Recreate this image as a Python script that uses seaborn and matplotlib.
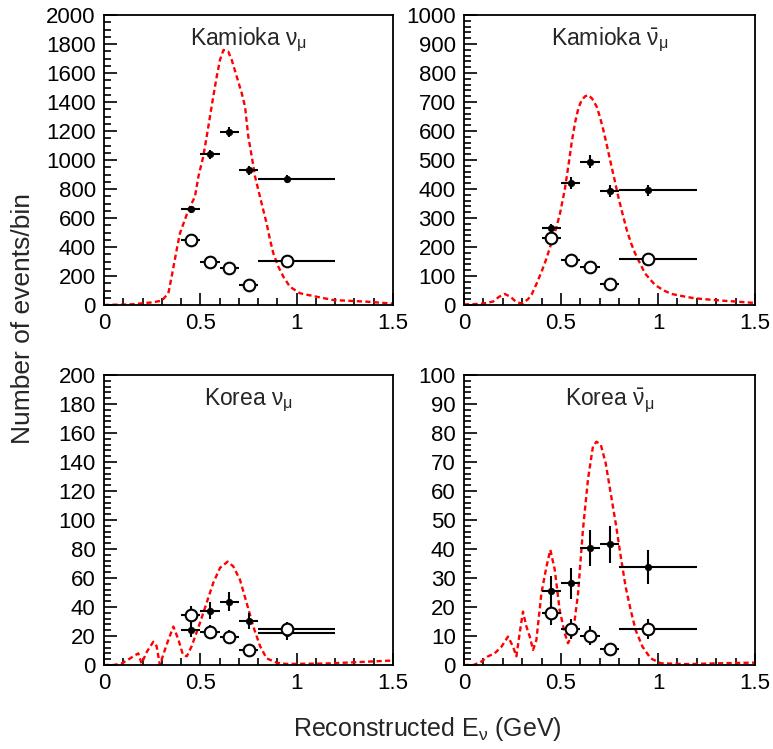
import numpy as np
import pandas as pd
import matplotlib
matplotlib.use("Agg")
import matplotlib.pyplot as plt
from matplotlib.ticker import MultipleLocator
import seaborn as sns

# ---------------- data ----------------
bin_centers = [0.45, 0.55, 0.65, 0.75, 0.95]
bin_err_low = [0.05, 0.05, 0.05, 0.05, 0.15]
bin_err_high = [0.05, 0.05, 0.05, 0.05, 0.25]

# Kamioka nu_mu
km_filled = [660, 1040, 1195, 930, 870]
km_filled_err = [26, 32, 35, 30, 30]
km_open = [445, 300, 255, 140, 305]
km_open_err = [21, 17, 16, 12, 17]
km_curve_x = [0.0, 0.05, 0.10, 0.15, 0.20, 0.25, 0.30, 0.334, 0.351, 0.377, 0.394, 0.438,
              0.472, 0.49, 0.515, 0.533, 0.55, 0.567, 0.585, 0.602, 0.62, 0.645, 0.663,
              0.689, 0.715, 0.732, 0.749, 0.767, 0.784, 0.801, 0.818, 0.844, 0.862, 0.879,
              0.905, 0.931, 0.965, 1.017, 1.104, 1.19, 1.364, 1.484, 1.5]
km_curve_y = [0, 2, 3, 5, 12, 18, 30, 81, 195, 379, 494, 655,
              747, 885, 1023, 1161, 1299, 1437, 1575, 1690, 1759, 1747, 1690,
              1575, 1460, 1368, 1161, 1023, 885, 793, 701, 563, 448, 356,
              264, 195, 126, 81, 57, 34, 23, 11, 10]

# Kamioka anti-nu_mu
kb_filled = [265, 422, 494, 393, 395]
kb_filled_err = [16, 21, 22, 20, 20]
kb_open = [230, 155, 132, 71, 160]
kb_open_err = [15, 12, 11.5, 8.4, 12.6]
kb_curve_x = [0.0, 0.05, 0.10, 0.15, 0.18, 0.21, 0.24, 0.27, 0.30, 0.33, 0.35, 0.375, 0.40,
              0.425, 0.45, 0.475, 0.495, 0.52, 0.54, 0.555, 0.572, 0.59, 0.607, 0.625, 0.64,
              0.66, 0.684, 0.70, 0.718, 0.735, 0.753, 0.775, 0.795, 0.817, 0.839, 0.86,
              0.882, 0.91, 0.933, 0.96, 0.985, 1.03, 1.07, 1.13, 1.19, 1.26, 1.33, 1.40,
              1.48, 1.5]
kb_curve_y = [2, 3, 5, 12, 28, 38, 28, 10, 5, 20, 38, 75, 115,
              160, 213, 265, 316, 400, 489, 560, 627, 680, 707, 720, 724,
              712, 684, 650, 604, 555, 500, 435, 374, 315, 259, 215,
              178, 140, 109, 88, 69, 50, 38, 30, 23, 19, 15, 12,
              8, 7]

# Korea nu_mu
rm_filled = [24, 37.5, 43.7, 30.6, 22]
rm_filled_err = [4.9, 6.1, 6.6, 5.5, 4.7]
rm_open = [34.5, 23, 19.5, 10.4, 24.5]
rm_open_err = [5.9, 4.8, 4.4, 3.2, 4.9]
rm_curve_x = [0.0, 0.05, 0.09, 0.118, 0.152, 0.178, 0.195, 0.222, 0.256, 0.273, 0.29, 0.325,
              0.36, 0.386, 0.41, 0.43, 0.455, 0.498, 0.533, 0.567, 0.602, 0.642, 0.671,
              0.706, 0.74, 0.775, 0.81, 0.844, 0.896, 0.948, 1.0, 1.15, 1.32, 1.48, 1.5]
rm_curve_y = [0, 0, 1, 3, 6, 8, 1, 9, 16, 13, 0, 14,
              26.5, 17.5, 7, 6, 13, 29, 43, 56.6, 67, 71.3, 68,
              58.7, 43, 26.5, 13, 4.6, 1.6, 0.7, 0.8, 1, 2, 3, 3]

# Korea anti-nu_mu
rb_filled = [25.6, 28.2, 40.3, 41.6, 33.7]
rb_filled_err = [5.1, 5.3, 6.3, 6.4, 5.8]
rb_open = [18, 12.3, 10.1, 5.4, 12.3]
rb_open_err = [4.2, 3.5, 3.2, 2.3, 3.5]
rb_curve_x = [0.0, 0.05, 0.09, 0.124, 0.158, 0.193, 0.227, 0.253, 0.27, 0.287, 0.304, 0.322,
              0.339, 0.356, 0.373, 0.399, 0.425, 0.445, 0.468, 0.493, 0.519, 0.536, 0.562,
              0.588, 0.613, 0.639, 0.665, 0.683, 0.705, 0.73, 0.756, 0.782, 0.808, 0.833,
              0.859, 0.885, 0.92, 0.962, 1.014, 1.15, 1.32, 1.48, 1.5]
rb_curve_y = [0, 0, 1.2, 3, 4, 6.3, 9.8, 6.3, 3, 11, 18.4, 13.2,
              9.8, 5.2, 8.6, 24.7, 33.9, 39.7, 32.8, 19, 11, 7.5, 11,
              24.7, 46.6, 64, 75.5, 77, 76, 69.7, 59.3, 48.9, 37.4, 27,
              19, 12, 6.3, 2.3, 0.6, 0.3, 0.6, 0.8, 0.8]

panels = [
    dict(title=r"Kamioka $\nu_{\mu}$", ymax=2000, major=200, minor=50,
         filled=km_filled, ferr=km_filled_err, opn=km_open, oerr=km_open_err,
         cx=km_curve_x, cy=km_curve_y,
         pos=[104 / 773, 1 - 305 / 749, 289 / 773, 290 / 749]),
    dict(title=r"Kamioka $\bar{\nu}_{\mu}$", ymax=1000, major=100, minor=20,
         filled=kb_filled, ferr=kb_filled_err, opn=kb_open, oerr=kb_open_err,
         cx=kb_curve_x, cy=kb_curve_y,
         pos=[464 / 773, 1 - 305 / 749, 291 / 773, 290 / 749]),
    dict(title=r"Korea $\nu_{\mu}$", ymax=200, major=20, minor=4,
         filled=rm_filled, ferr=rm_filled_err, opn=rm_open, oerr=rm_open_err,
         cx=rm_curve_x, cy=rm_curve_y,
         pos=[104 / 773, 1 - 665 / 749, 289 / 773, 290 / 749]),
    dict(title=r"Korea $\bar{\nu}_{\mu}$", ymax=100, major=10, minor=2,
         filled=rb_filled, ferr=rb_filled_err, opn=rb_open, oerr=rb_open_err,
         cx=rb_curve_x, cy=rb_curve_y,
         pos=[464 / 773, 1 - 665 / 749, 291 / 773, 290 / 749]),
]

# ---------------- style ----------------
sns.set_style("ticks")
plt.rcParams["font.family"] = ["Liberation Sans", "DejaVu Sans"]
plt.rcParams["mathtext.fontset"] = "custom"
plt.rcParams["mathtext.rm"] = "Liberation Sans"
plt.rcParams["mathtext.it"] = "Liberation Sans"
plt.rcParams["mathtext.bf"] = "Liberation Sans:bold"
plt.rcParams["mathtext.sf"] = "Liberation Sans"

fig = plt.figure(figsize=(7.73, 7.49), dpi=100)

for p in panels:
    ax = fig.add_axes(p["pos"])
    # expected curve
    cdf = pd.DataFrame({"E": p["cx"], "N": p["cy"]})
    sns.lineplot(data=cdf, x="E", y="N", ax=ax, color="#ff0000", linewidth=1.7,
                 linestyle="--", sort=False, zorder=2)
    ax.lines[-1].set_dashes((2.2, 1.4))

    # data with error bars
    xerr = [bin_err_low, bin_err_high]
    ax.errorbar(bin_centers, p["filled"], xerr=xerr, yerr=p["ferr"],
                fmt="none", ecolor="black", elinewidth=1.5, capsize=0, zorder=3)
    ax.errorbar(bin_centers, p["opn"], xerr=xerr, yerr=p["oerr"],
                fmt="none", ecolor="black", elinewidth=1.5, capsize=0, zorder=3)
    fdf = pd.DataFrame({"E": bin_centers, "N": p["filled"]})
    odf = pd.DataFrame({"E": bin_centers, "N": p["opn"]})
    sns.scatterplot(data=fdf, x="E", y="N", ax=ax, color="black", s=22,
                    edgecolor="black", linewidth=0.5, zorder=4)
    sns.scatterplot(data=odf, x="E", y="N", ax=ax, facecolor="white", s=70,
                    edgecolor="black", linewidth=1.5, zorder=4)

    ax.set_xlim(0, 1.5)
    ax.set_ylim(0, p["ymax"])
    ax.xaxis.set_major_locator(MultipleLocator(0.5))
    ax.xaxis.set_minor_locator(MultipleLocator(0.1))
    ax.yaxis.set_major_locator(MultipleLocator(p["major"]))
    ax.yaxis.set_minor_locator(MultipleLocator(p["minor"]))
    ax.xaxis.set_major_formatter(plt.FuncFormatter(lambda v, _: f"{v:g}"))
    ax.yaxis.set_major_formatter(plt.FuncFormatter(lambda v, _: f"{v:g}"))
    ax.tick_params(which="both", direction="in", top=False, right=False,
                   labelsize=16, width=1.2, colors="black")
    ax.tick_params(which="major", length=9, pad=6)
    ax.tick_params(which="minor", length=5)
    for s in ax.spines.values():
        s.set_visible(True)
        s.set_linewidth(1.3)
        s.set_color("black")
    ax.set_xlabel("")
    ax.set_ylabel("")
    ax.text(0.5, 0.897, p["title"], transform=ax.transAxes, ha="center",
            va="baseline", fontsize=16.5)

fig.text(23 / 773, 1 - 319 / 749, "Number of events/bin", rotation=90,
         ha="center", va="center", fontsize=19)
fig.text(427 / 773, 1 - 736 / 749, r"Reconstructed E$_{\nu}$ (GeV)",
         ha="center", va="baseline", fontsize=18)

fig.savefig("out.png", dpi=100)
